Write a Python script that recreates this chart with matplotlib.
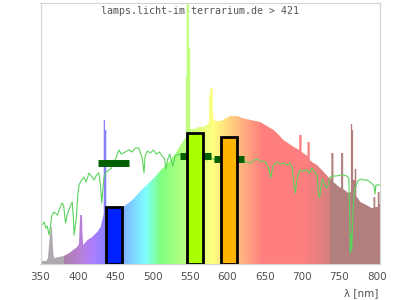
import numpy as np
import matplotlib
matplotlib.use('Agg')
import matplotlib.pyplot as plt
from matplotlib.patches import Polygon

# lamp spectrum, relative intensity
lamp_nm = [350, 358, 360, 361.5, 363, 364, 365.2, 366.2, 367.2, 368.5,
           375, 381, 388, 395, 399, 401.5, 402.5, 403.2, 405.5, 406.2,
           407, 413, 419, 426, 430.5, 432.7, 434.6, 434.6, 436.3, 436.3,
           438, 438, 447, 459, 466, 473, 481.5, 488, 495, 503,
           511, 518, 524, 531, 537.5, 542, 544.4, 544.4, 545.6, 545.6,
           548.6, 548.6, 550.4, 550.4, 556, 562, 568, 574, 575.6, 575.6,
           577.2, 577.2, 580.4, 580.4, 581.5, 584, 591, 598, 604, 613,
           620, 631, 644, 655, 662, 669, 675, 683, 689, 696.2,
           696.2, 699.4, 699.4, 707.3, 707.3, 710.3, 710.3, 715, 720, 729,
           735, 739.2, 739.2, 742, 742, 748, 752.2, 752.2, 755, 755,
           762, 765.3, 765.3, 767, 767, 768.3, 768.3, 770.4, 770.4, 772.6,
           772.6, 778, 786, 793, 795.5, 795.5, 798, 798, 801.3, 801.3,
           803.7, 803.7, 804.5]
lamp_val = [3, 3, 6, 20, 30, 37, 37, 22, 10, 6,
            7, 8, 10.7, 14.7, 17, 20, 40, 49, 49, 30,
            19, 24, 27, 32, 37, 44, 50, 144, 144, 134,
            134, 55, 54, 56, 60, 64, 71, 76, 81, 87,
            94, 99, 104, 111, 119, 124, 127, 187, 187, 300,
            300, 216, 216, 135, 135, 137, 137, 140, 142, 169,
            169, 176, 176, 154, 145, 143, 143, 146, 148, 148,
            146, 144, 142, 137, 134, 129, 124, 120, 117, 114,
            129, 129, 112, 108, 122, 122, 104, 101, 99, 92,
            87, 85, 111, 111, 82, 78, 76, 111, 111, 75,
            71, 72, 140, 140, 134, 134, 84, 84, 95, 95,
            68, 62, 59, 56, 56, 67, 67, 57, 57, 72,
            72, 60, 60]

# reference (daylight) curve
ref_nm = [352, 355, 357, 359, 361.5, 363, 365, 368, 372.5, 376,
          379, 381, 383.5, 386, 388, 390, 392.5, 394, 395, 396.5,
          398, 400, 401.5, 405, 408, 411, 415, 418, 421.5, 425,
          428, 430, 432, 433.5, 435, 438, 441.5, 445, 448, 451,
          455, 458, 463.5, 468, 472.5, 477, 481.5, 484, 486, 488.5,
          490, 493, 497, 501, 505, 509, 513, 516, 518, 520,
          523, 527, 530, 535, 540, 545, 550, 556, 562, 568,
          573, 578, 584, 590, 596, 602, 608, 614, 620, 626,
          631, 636, 640, 645, 649, 653, 656, 658, 661, 666,
          671, 675, 680, 684, 687, 689, 691, 693, 697, 702,
          706, 710, 713, 717, 720, 722, 723.5, 725, 727, 730,
          733, 735, 737.5, 742, 746, 751, 755.5, 760, 762.5, 763.5,
          764.5, 765.5, 766.5, 767.5, 768.5, 770, 772, 775, 778, 783,
          787, 791, 794, 796.5, 797.5, 799, 802, 804]
ref_val = [39, 42, 36, 38, 29, 36, 48, 52, 49, 56,
           61, 58, 41, 50, 54, 58, 62, 45, 29, 38,
           47, 70, 79, 84, 87, 82, 91, 88, 84, 89,
           91, 80, 61, 75, 87, 92, 94, 96, 102, 106,
           114, 110, 112, 114, 112, 116, 116, 110, 107, 91,
           108, 113, 111, 114, 110, 112, 108, 105, 95, 104,
           110, 98, 108, 110, 107, 109, 106, 108, 105, 107,
           104, 106, 104, 105, 103, 104, 105, 103, 104, 102,
           101, 104, 105, 102, 103, 100, 94, 86, 98, 102,
           100, 101, 99, 101, 96, 80, 71, 84, 94, 93,
           94, 91, 96, 92, 88, 70, 66, 75, 85, 80,
           76, 79, 87, 88, 88, 89, 89, 88, 86, 60,
           11, 30, 14, 40, 57, 72, 78, 83, 85, 84,
           84, 82, 80, 78, 70, 79, 79, 79]

# bands: blue, green, orange
band_nm = [448, 557, 602]
band_lamp = [57.3, 131.3, 127.3]
band_ref = [101.5, 108, 104.7]
band_colors = ['#0022ff', '#aaff00', '#ffb400']

title = 'lamps.licht-im-terrarium.de > 421'
xticks = [350, 400, 450, 500, 550, 600, 650, 700, 750, 800]


def wl_color(w):
    if w < 381:
        return (0.69, 0.66, 0.69)
    if w > 736:
        return (0.70, 0.50, 0.50)
    if w < 440:
        r, g, b = (440 - w) / 60, 0, 1
    elif w < 490:
        r, g, b = 0, (w - 440) / 50, 1
    elif w < 510:
        r, g, b = 0, 1, (510 - w) / 20
    elif w < 580:
        r, g, b = (w - 510) / 70, 1, 0
    elif w < 645:
        r, g, b = 1, (645 - w) / 65, 0
    else:
        r, g, b = 1, 0, 0
    f = 1.0
    if w < 420:
        f = 0.3 + 0.7 * (w - 380) / 40
    elif w > 700:
        f = 0.3 + 0.7 * (780 - w) / 80
    return tuple(0.5 + 0.5 * c * f for c in (r, g, b))


fig = plt.figure(figsize=(4, 3), dpi=100)
ax = fig.add_axes([40.5 / 400, 36 / 300, 339.5 / 400, 261 / 300])

# coloured spectrum: gradient image clipped by the lamp curve
grid = np.arange(350, 805, 0.25)
img = np.array([wl_color(w) for w in grid])[None, :, :]
im = ax.imshow(img, extent=(grid[0], grid[-1] + 0.25, 0, 320), aspect='auto',
               origin='lower', interpolation='nearest', zorder=1)
verts = np.column_stack([[lamp_nm[0]] + lamp_nm + [lamp_nm[-1]],
                         [0] + lamp_val + [0]])
poly = Polygon(verts, closed=True, fc='none', ec='none', transform=ax.transData)
ax.add_patch(poly)
im.set_clip_path(poly)

ax.plot(ref_nm, ref_val, color='#5cd35c', lw=0.8, zorder=2)

bc = np.array(band_nm)
ax.hlines(band_ref, bc - 20.5, bc + 20.5, colors='#006000', lw=5, zorder=3)
ax.bar(band_nm, band_lamp, width=21.5, color=band_colors, edgecolor='black',
       linewidth=2, zorder=4)

ax.text(200.3 / 400, 1 - 11 / 300, title, transform=fig.transFigure,
        ha='center', va='center', family='DejaVu Sans Mono', fontsize=7.2,
        color='#555555', zorder=0.5)
fig.text(378 / 400, 1 - 288 / 300, 'λ [nm]', ha='right', va='top',
         fontsize=7.5, color='#505050')

ax.set_xlim(351.6, 804.3)
ax.set_ylim(0, 261)
ax.set_xticks(xticks)
ax.set_yticks([])
ax.tick_params(axis='x', length=0, pad=6, labelsize=7.5, labelcolor='#505050')
for s in ax.spines.values():
    s.set_color('#d4d4d4')
    s.set_linewidth(0.8)

fig.savefig('out.png', dpi=100)
